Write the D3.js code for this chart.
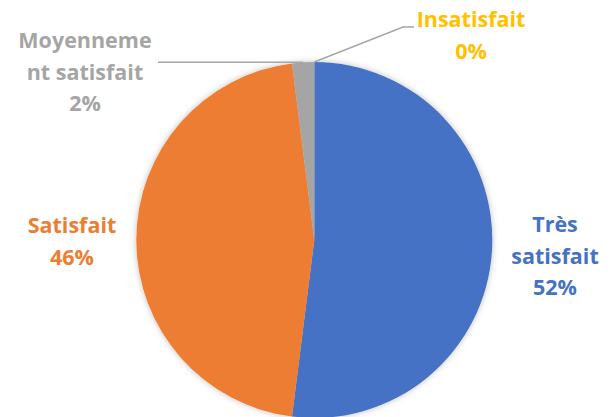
<!DOCTYPE html>
<html>
<head>
<meta charset="utf-8">
<script src="https://cdn.jsdelivr.net/npm/d3@7"></script>
<style>
  html, body { margin: 0; padding: 0; background: #fff; }
  svg { display: block; }
</style>
</head>
<body>
<div id="chart"></div>
<script>
// Données
var categories = ["Très satisfait", "Satisfait", "Moyennement satisfait", "Insatisfait"];
var valeurs = [52, 46, 2, 0];
var couleurs = ["#4472C4", "#ED7D31", "#A5A5A5", "#FFC000"];
// lignes des étiquettes (coupure comme dans l'original)
var etiquettes = [["Très", "satisfait"], ["Satisfait"], ["Moyenneme", "nt satisfait"], ["Insatisfait"]];

// Mise en page des étiquettes (centre x, baseline de la 1re ligne)
var posEtiq = [
    { x: 555, y: 232 },
    { x: 72, y: 233 },
    { x: 85, y: 48 },
    { x: 471, y: 27 }
];

var svgWidth = 610, svgHeight = 417;
var cx = 314.3, cy = 240, rayon = 178;
var interligne = 31.7;

var svg = d3.select("#chart").append("svg")
    .attr("width", svgWidth)
    .attr("height", svgHeight);

var defs = svg.append("defs");
var filtre = defs.append("filter")
    .attr("id", "ombre")
    .attr("x", "-10%").attr("y", "-10%")
    .attr("width", "120%").attr("height", "120%");
filtre.append("feDropShadow")
    .attr("dx", 0).attr("dy", 0)
    .attr("stdDeviation", 3)
    .attr("flood-color", "#000")
    .attr("flood-opacity", 0.25);

var g = svg.append("g")
    .attr("transform", "translate(" + cx + "," + cy + ")");

var pie = d3.pie().sort(null).value(d => d);
var arcs = pie(valeurs);

var arc = d3.arc().innerRadius(0).outerRadius(rayon);

g.append("g")
    .attr("filter", "url(#ombre)")
    .selectAll("path")
    .data(arcs)
    .enter()
    .append("path")
    .attr("d", arc)
    .attr("fill", (d, i) => couleurs[i]);

// Lignes de rappel pour les petites parts
function pointArc(d) {
    var a = (d.startAngle + d.endAngle) / 2;
    return [rayon * Math.sin(a), -rayon * Math.cos(a)];
}

var lignes = [
    // Moyennement satisfait : horizontale vers la gauche
    { i: 2, pts: p => [p, [158 - cx, p[1]]] },
    // Insatisfait : oblique puis courte horizontale
    { i: 3, pts: p => [p, [403 - cx, 27 - cy], [414 - cx, 27 - cy]] }
];

g.selectAll("path.rappel")
    .data(lignes)
    .enter()
    .append("path")
    .attr("class", "rappel")
    .attr("fill", "none")
    .attr("stroke", "#A6A6A6")
    .attr("stroke-width", 1.5)
    .attr("d", d => d3.line()(d.pts(pointArc(arcs[d.i]))));

// Étiquettes
var total = d3.sum(valeurs);
var textes = svg.append("g")
    .selectAll("text")
    .data(arcs)
    .enter()
    .append("text")
    .attr("text-anchor", "middle")
    .attr("font-family", "'Open Sans', sans-serif")
    .attr("font-weight", "bold")
    .attr("font-size", "21.5px")
    .attr("fill", (d, i) => couleurs[i]);

textes.each(function (d, i) {
    var t = d3.select(this);
    var lignesTxt = etiquettes[i].concat([Math.round(d.value / total * 100) + "%"]);
    lignesTxt.forEach(function (l, k) {
        t.append("tspan")
            .attr("x", posEtiq[i].x)
            .attr("y", posEtiq[i].y + k * interligne)
            .text(l);
    });
});
</script>
</body>
</html>
